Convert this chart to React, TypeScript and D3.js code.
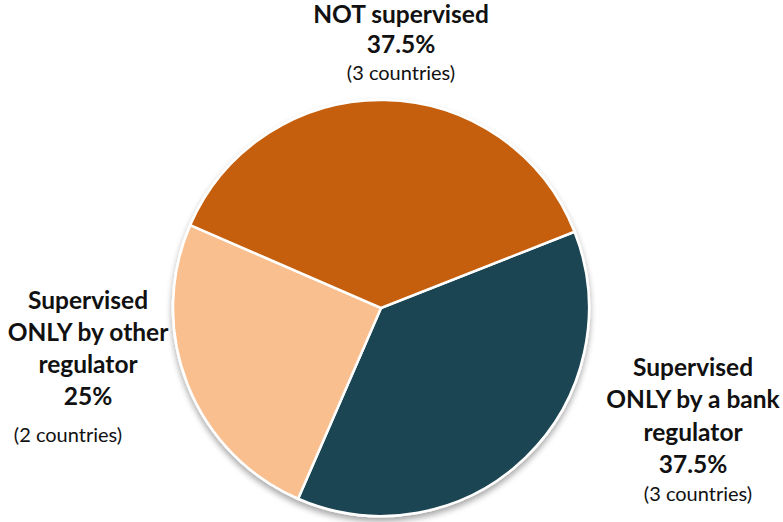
import React from "react";
import * as d3 from "d3";

const categories = ["Supervised ONLY by a bank regulator", "Supervised ONLY by other regulator", "NOT supervised"];
const values = [37.5, 25, 37.5];
const countries = [3, 2, 3];
const colors = ["#1C4552", "#F9BF8F", "#C55E0A"];

const W = 783, H = 522;
const cx = 381, cy = 308, R = 208;
const startDeg = 68.5;

export default function App() {
  const pie = d3.pie<number>().sort(null).value(d => d)
    .startAngle((startDeg * Math.PI) / 180)
    .endAngle((startDeg * Math.PI) / 180 + 2 * Math.PI);
  const arcs = pie(values);
  const arc = d3.arc<d3.PieArcDatum<number>>().innerRadius(0).outerRadius(R);
  const font = "Lato, 'Open Sans', sans-serif";
  const bold = { fontFamily: font, fontWeight: 700, fontSize: 24.5, fill: "#111" } as const;
  const reg = { fontFamily: font, fontWeight: 400, fontSize: 20, fill: "#111" } as const;
  return (
    <svg width={W} height={H} style={{ position: "absolute", left: 0, top: 0 }}>
      <defs>
        <filter id="sh" x="-20%" y="-20%" width="140%" height="140%">
          <feGaussianBlur in="SourceAlpha" stdDeviation="3" />
          <feOffset dx="0" dy="4" result="b" />
          <feComponentTransfer><feFuncA type="linear" slope="0.35" /></feComponentTransfer>
          <feMerge><feMergeNode /><feMergeNode in="SourceGraphic" /></feMerge>
        </filter>
      </defs>
      <g transform={`translate(${cx},${cy})`} filter="url(#sh)">
        {arcs.map((a, i) => (
          <path key={categories[i]} d={arc(a) || ""} fill={colors[i]} stroke="#fff" strokeWidth={2.5} />
        ))}
      </g>
      <g textAnchor="middle">
        <text x={401} y={23} style={bold}>NOT supervised</text>
        <text x={401} y={53} style={bold}>{values[2]}%</text>
        <text x={401} y={80} style={reg}>({countries[2]} countries)</text>

        <text x={88} y={309} style={bold}>Supervised</text>
        <text x={88} y={341} style={bold}>ONLY by other</text>
        <text x={88} y={373} style={bold}>regulator</text>
        <text x={88} y={405} style={bold}>{values[1]}%</text>
        <text x={68} y={442} style={reg}>({countries[1]} countries)</text>

        <text x={693} y={376} style={bold}>Supervised</text>
        <text x={693} y={408} style={bold}>ONLY by a bank</text>
        <text x={693} y={441} style={bold}>regulator</text>
        <text x={693} y={473} style={bold}>{values[0]}%</text>
        <text x={698} y={501} style={reg}>({countries[0]} countries)</text>
      </g>
    </svg>
  );
}
